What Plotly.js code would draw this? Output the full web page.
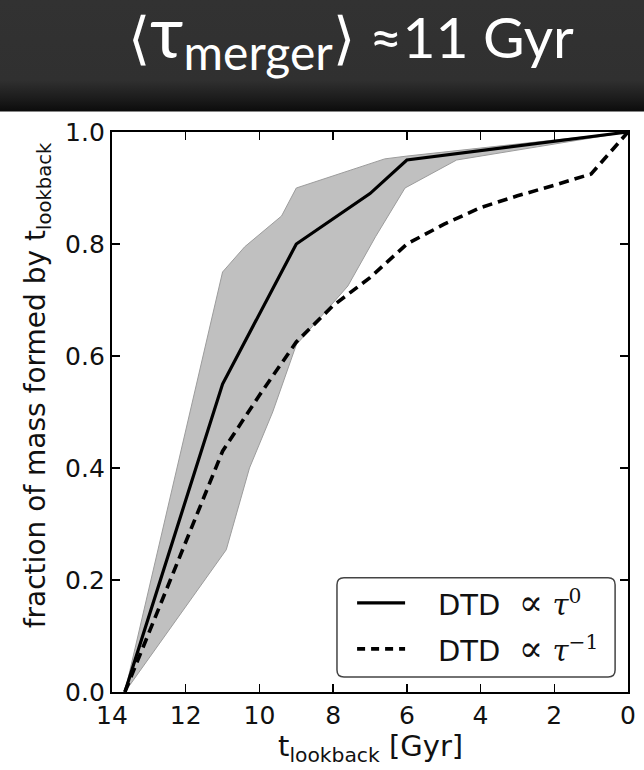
<!DOCTYPE html>
<html>
<head>
<meta charset="utf-8">
<script src="https://cdn.plot.ly/plotly-3.0.1.min.js"></script>
<style>
  html, body { margin: 0; padding: 0; }
  body {
    width: 644px; height: 770px; overflow: hidden;
    background: linear-gradient(to bottom, #323232 0px, #303030 80px, #1a1a1a 100px, #0c0c0c 111px, #ffffff 112px, #ffffff 770px);
  }
  #chart { width: 644px; height: 770px; }
</style>
</head>
<body>
<div id="chart"></div>
<script>
// Cumulative fraction of stellar mass formed by a given lookback time
const solidX = [13.65, 11.0, 9.0, 7.0, 6.0, 0.0];
const solidY = [0.0, 0.55, 0.80, 0.89, 0.95, 1.0];

const dashX = [13.65, 11.0, 10.0, 9.0, 8.0, 7.0, 6.0, 5.0, 4.0, 3.0, 2.0, 1.0, 0.0];
const dashY = [0.0, 0.43, 0.53, 0.625, 0.69, 0.74, 0.80, 0.835, 0.865, 0.886, 0.905, 0.925, 1.0];

// Spread of the flat-DTD model
const bandUpperX = [13.65, 11.0, 10.4, 9.4, 9.0, 6.6, 6.0, 0.0];
const bandUpperY = [0.0, 0.75, 0.795, 0.85, 0.90, 0.952, 0.957, 1.0];
const bandLowerX = [13.65, 10.9, 10.27, 9.64, 9.0, 8.4, 7.6, 6.85, 6.05, 4.65, 0.0];
const bandLowerY = [0.0, 0.254, 0.40, 0.50, 0.62, 0.665, 0.725, 0.813, 0.90, 0.95, 1.0];

const xTicks = [14, 12, 10, 8, 6, 4, 2, 0];
const yTicks = [0.0, 0.2, 0.4, 0.6, 0.8, 1.0];

const propTo = '<span style="font-family:DejaVu Serif">' +
  '<span style="font-size:36px">∝</span>\u00A0<i>τ</i>';
const seriesNames = [
  'DTD\u00A0\u00A0' + propTo + '<sup>0</sup></span>',
  'DTD\u00A0\u00A0' + propTo + '<sup>−1</sup></span>'
];

const bandX = bandUpperX.concat(bandLowerX.slice().reverse());
const bandY = bandUpperY.concat(bandLowerY.slice().reverse());

const solidLine = { color: '#000000', width: 3.2 };
const dashLine = { color: '#000000', width: 3.6, dash: '10px,6px' };

const traces = [
  {
    x: bandX, y: bandY, type: 'scatter', mode: 'lines',
    fill: 'toself', fillcolor: '#c0c0c0',
    line: { color: '#9c9c9c', width: 1 },
    showlegend: false, hoverinfo: 'skip'
  },
  { x: solidX, y: solidY, type: 'scatter', mode: 'lines', name: seriesNames[0], line: solidLine, showlegend: false },
  { x: dashX, y: dashY, type: 'scatter', mode: 'lines', name: seriesNames[1], line: dashLine, showlegend: false }
];

// legend: rounded frame, line samples and labels, in paper coordinates
const bx0 = 0.436, bx1 = 0.975, by0 = 0.027, by1 = 0.204;
const rx = 7 / 516, ry = 7 / 560;
const framePath =
  `M ${bx0 + rx},${by0} L ${bx1 - rx},${by0} Q ${bx1},${by0} ${bx1},${by0 + ry} ` +
  `L ${bx1},${by1 - ry} Q ${bx1},${by1} ${bx1 - rx},${by1} ` +
  `L ${bx0 + rx},${by1} Q ${bx0},${by1} ${bx0},${by1 - ry} ` +
  `L ${bx0},${by0 + ry} Q ${bx0},${by0} ${bx0 + rx},${by0} Z`;
const rowY = [0.159, 0.077];
const sampleX0 = 0.475, sampleX1 = 0.568, labelX = 0.628;

const legendShapes = [
  { type: 'path', xref: 'paper', yref: 'paper', path: framePath,
    fillcolor: '#ffffff', line: { color: '#444444', width: 1.5 }, layer: 'above' },
  { type: 'line', xref: 'paper', yref: 'paper', x0: sampleX0, x1: sampleX1, y0: rowY[0], y1: rowY[0],
    line: solidLine, layer: 'above' },
  { type: 'line', xref: 'paper', yref: 'paper', x0: sampleX0, x1: sampleX1, y0: rowY[1], y1: rowY[1],
    line: { color: '#000000', width: 3.6, dash: '8px,6px' }, layer: 'above' }
];
const legendLabels = seriesNames.map((name, i) => ({
  text: name, showarrow: false, xref: 'paper', yref: 'paper',
  x: labelX, y: rowY[i], xanchor: 'left', yanchor: 'middle',
  font: { family: 'DejaVu Sans', size: 29, color: '#111111' }
}));

const axisCommon = {
  showgrid: false, zeroline: false,
  showline: true, linecolor: '#000000', linewidth: 2.2,
  mirror: 'ticks', ticks: 'inside', ticklen: 8, tickwidth: 1.5, tickcolor: '#000000',
  tickfont: { family: 'DejaVu Sans', size: 25, color: '#111111' }
};

const layout = {
  width: 644, height: 770,
  paper_bgcolor: 'rgba(0,0,0,0)',
  plot_bgcolor: '#ffffff',
  margin: { l: 112, r: 16, t: 132, b: 78 },
  title: {
    text: '⟨<span style="font-size:72px">τ</span><sub><span style="font-size:48px">merger</span></sub>⟩ ≈11 Gyr',
    font: { family: 'Lato', size: 57, color: '#ffffff' },
    x: 0.463, xanchor: 'center', xref: 'paper',
    y: 1 - 38 / 770, yanchor: 'middle', yref: 'container'
  },
  xaxis: Object.assign({}, axisCommon, {
    range: [14, 0], tickvals: xTicks, ticktext: xTicks.map(String)
  }),
  yaxis: Object.assign({}, axisCommon, {
    range: [0, 1], tickvals: yTicks, ticktext: yTicks.map(v => v.toFixed(1))
  }),
  showlegend: false,
  shapes: legendShapes,
  annotations: legendLabels.concat([
    {
      text: 'fraction of mass formed by t<sub>lookback</sub>',
      textangle: -90, showarrow: false,
      xref: 'paper', yref: 'paper',
      x: -0.145, y: 0.548, xanchor: 'center', yanchor: 'middle',
      font: { family: 'DejaVu Sans', size: 28, color: '#111111' }
    },
    {
      text: 't<sub>lookback</sub> [Gyr]',
      showarrow: false,
      xref: 'paper', yref: 'paper',
      x: 0.5, y: -0.1, xanchor: 'center', yanchor: 'middle',
      font: { family: 'DejaVu Sans', size: 29, color: '#111111' }
    }
  ])
};

Plotly.newPlot('chart', traces, layout, { displayModeBar: false, staticPlot: true });
</script>
</body>
</html>
